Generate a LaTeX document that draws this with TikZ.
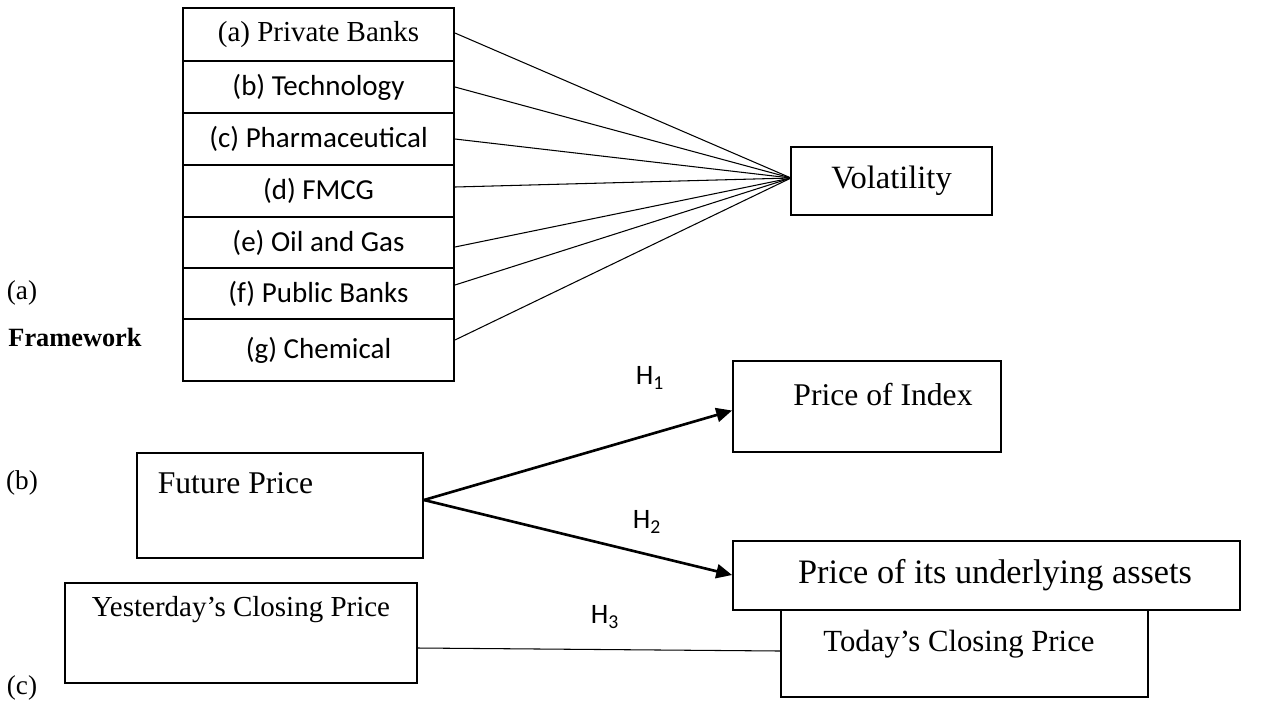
\documentclass[tikz,border=0pt]{standalone}
\usepackage{fontspec}
\setmainfont{Liberation Serif}
\newfontfamily\carl{Carlito}
\usetikzlibrary{arrows.meta}
\begin{document}
\begin{tikzpicture}[x=0.02cm,y=-0.02cm,
  box/.style={draw, line width=1.1pt, fill=white, inner sep=0pt},
  row/.style={box, minimum width=5.42cm, font=\carl\fontsize{16.5}{19}\selectfont},
  txt/.style={inner sep=0pt, font=\fontsize{17.5}{20}\selectfont},
  hlab/.style={inner sep=0pt, font=\carl\fontsize{16}{19}\selectfont},
  thin/.style={line width=0.6pt},
  arr/.style={line width=1.5pt, -{Triangle[length=9pt,width=8pt]}}]
\useasboundingbox (0,0) rectangle (1264,701);
% stack of sectors
\node[row, minimum height=1.06cm, font=\fontsize{16.5}{19}\selectfont] (ra) at (318.5,34.5) {(a) Private Banks};
\node[row, minimum height=1.04cm] (rb) at (318.5,87) {(b) Technology};
\node[row, minimum height=1.04cm] (rc) at (318.5,139) {(c) Pharmaceutical};
\node[row, minimum height=1.04cm] (rd) at (318.5,191) {(d) FMCG};
\node[row, minimum height=1.02cm] (re) at (318.5,242.5) {(e) Oil and Gas};
\node[row, minimum height=1.02cm] (rf) at (318.5,293.5) {(f) Public Banks};
\node[row, minimum height=1.24cm] (rg) at (318.5,350) {(g) Chemical};
% volatility
\node[box, minimum width=4.02cm, minimum height=1.36cm, font=\fontsize{18.5}{21}\selectfont] (vol) at (891.5,181) {Volatility};
\coordinate (vin) at (791,178);
\draw[thin] ([yshift=0.03cm]ra.east) -- (vin);
\draw[thin] ([yshift=0cm]rb.east) -- (vin);
\draw[thin] ([yshift=0cm]rc.east) -- (vin);
\draw[thin] ([yshift=0.08cm]rd.east) -- (vin);
\draw[thin] ([yshift=-0.09cm]re.east) -- (vin);
\draw[thin] ([yshift=0.17cm]rf.east) -- (vin);
\draw[thin] ([yshift=0.2cm]rg.east) -- (vin);
% side labels
\node[txt, font=\fontsize{15.5}{18}\selectfont] (la) at (22,293) {(a)};
\node[txt, font=\bfseries\fontsize{15}{18}\selectfont] (fw) at (75,337) {Framework};
\node[txt, font=\fontsize{15.5}{18}\selectfont] (lb) at (22,483) {(b)};
\node[txt, font=\fontsize{15.5}{18}\selectfont] (lc) at (22,688) {(c)};
% part (b)
\node[box, minimum width=5.72cm, minimum height=2.1cm] (fp) at (280,505.5) {};
\node[txt, font=\fontsize{18}{21}\selectfont] (fpt) at (235.5,483) {Future Price};
\node[box, minimum width=5.36cm, minimum height=1.82cm] (pi) at (867,406.5) {};
\node[txt, font=\fontsize{18}{21}\selectfont] (pit) at (883,395) {Price of Index};
% part (c) boxes (today's box under the assets box)
\node[box, minimum width=7.34cm, minimum height=1.94cm] (td) at (964.5,648.5) {};
\node[txt, font=\fontsize{17.5}{20}\selectfont] (tdt) at (959,644) {Today’s Closing Price};
\node[box, minimum width=10.14cm, minimum height=1.38cm] (ua) at (986.5,575.5) {};
\node[txt, font=\fontsize{19.5}{22}\selectfont] (uat) at (995,575) {Price of its underlying assets};
\node[box, minimum width=7.04cm, minimum height=2.0cm] (yd) at (241,633) {};
\node[txt, font=\fontsize{16.5}{19}\selectfont] (ydt) at (241,610) {Yesterday’s Closing Price};
% arrows
\draw[arr] ([yshift=0.11cm]fp.east) -- ([yshift=-0.08cm]pi.west);
\draw[arr] ([yshift=0.11cm]fp.east) -- ([yshift=0.01cm]ua.west);
\node[hlab] (h1) at (650,378) {H\textsubscript{1}};
\node[hlab] (h2) at (647,522) {H\textsubscript{2}};
\draw[thin] ([yshift=-0.3cm]yd.east) -- ([yshift=-0.05cm]td.west);
\node[hlab] (h3) at (605,617) {H\textsubscript{3}};
\end{tikzpicture}
\end{document}
